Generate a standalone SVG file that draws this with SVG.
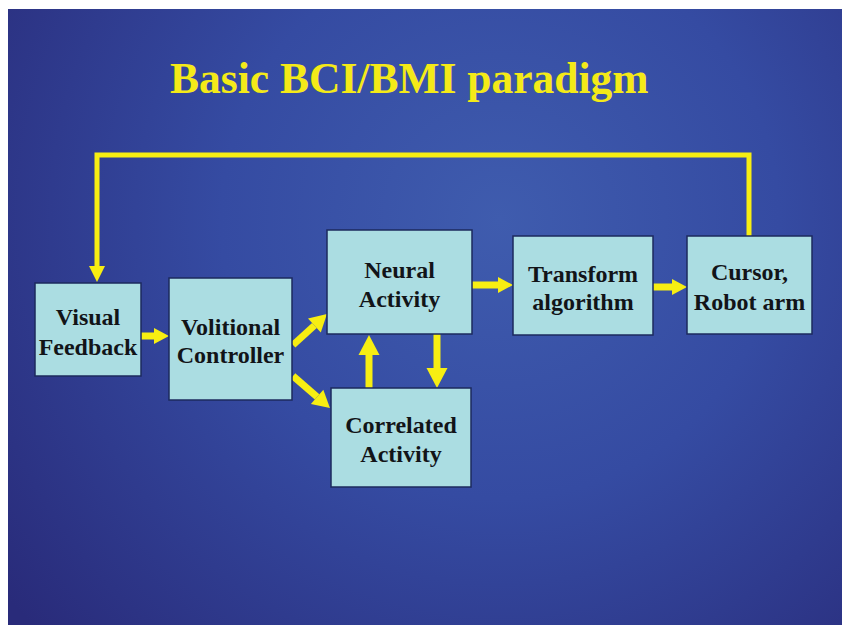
<svg xmlns="http://www.w3.org/2000/svg" width="842" height="625" viewBox="0 0 842 625">
  <defs>
    <radialGradient id="bg" cx="500" cy="220" r="620" gradientUnits="userSpaceOnUse">
      <stop offset="0" stop-color="#3F5CAE"/>
      <stop offset="0.45" stop-color="#354BA2"/>
      <stop offset="1" stop-color="#292B7A"/>
    </radialGradient>
    <marker id="head" viewBox="0 -10 20 20" refX="0" refY="0" markerWidth="20" markerHeight="20" markerUnits="userSpaceOnUse" orient="auto" overflow="visible">
      <path d="M0,-8 L15,0 L0,8 Z" fill="#F7EE12"/>
    </marker>
    <marker id="headDiag" viewBox="0 -12 24 24" refX="0" refY="0" markerWidth="24" markerHeight="24" markerUnits="userSpaceOnUse" orient="auto" overflow="visible">
      <path d="M0,-9.5 L17,0 L0,9.5 Z" fill="#F7EE12"/>
    </marker>
    <marker id="headBig" viewBox="0 -12 24 24" refX="0" refY="0" markerWidth="24" markerHeight="24" markerUnits="userSpaceOnUse" orient="auto" overflow="visible">
      <path d="M0,-10.5 L20,0 L0,10.5 Z" fill="#F7EE12"/>
    </marker>
    <marker id="headFb" viewBox="0 -10 20 20" refX="0" refY="0" markerWidth="20" markerHeight="20" markerUnits="userSpaceOnUse" orient="auto" overflow="visible">
      <path d="M0,-8 L16,0 L0,8 Z" fill="#F7EE12"/>
    </marker>
  </defs>
  <style>
    .box { fill: #ABDDE2; stroke: #1C2A5E; stroke-width: 1.5; }
    .lbl { font-family: "Liberation Serif", "Times New Roman", serif; font-weight: bold; font-size: 24px; fill: #121418; text-anchor: middle; }
    .title { font-family: "Liberation Serif", "Times New Roman", serif; font-weight: bold; font-size: 43.5px; fill: #F4EA18; }
    .arr { stroke: #F7EE12; stroke-width: 7; fill: none; }
    .fb { stroke: #F7EE12; stroke-width: 5; fill: none; stroke-linejoin: miter; }
  </style>
  <rect x="0" y="0" width="842" height="625" fill="#FFFFFF"/>
  <rect x="8" y="9" width="834" height="616" fill="url(#bg)"/>
  <text class="title" x="170" y="93">Basic BCI/BMI paradigm</text>

  <g id="connectors">
    <polyline class="fb" points="749,236 749,155 97,155 97,266" marker-end="url(#headFb)"/>
    <line class="arr" x1="141" y1="336" x2="154" y2="336" marker-end="url(#head)"/>
    <line class="arr" x1="293" y1="345" x2="314.4" y2="325.5" marker-end="url(#headDiag)"/>
    <line class="arr" x1="293" y1="376" x2="317.1" y2="396.9" marker-end="url(#headDiag)"/>
    <line class="arr" x1="369" y1="388" x2="369" y2="355" marker-end="url(#headBig)"/>
    <line class="arr" x1="437" y1="334" x2="437" y2="368" marker-end="url(#headBig)"/>
    <line class="arr" x1="472" y1="285" x2="498" y2="285" marker-end="url(#head)"/>
    <line class="arr" x1="653" y1="287" x2="672" y2="287" marker-end="url(#head)"/>
  </g>

  <g id="visual-feedback">
    <rect class="box" x="35" y="283" width="106" height="93"/>
    <text class="lbl" x="88" y="325">Visual</text>
    <text class="lbl" x="88" y="355">Feedback</text>
  </g>
  <g id="volitional-controller">
    <rect class="box" x="169" y="278" width="123" height="122"/>
    <text class="lbl" x="230.5" y="335">Volitional</text>
    <text class="lbl" x="230.5" y="363">Controller</text>
  </g>
  <g id="neural-activity">
    <rect class="box" x="327" y="230" width="145" height="104"/>
    <text class="lbl" x="399.5" y="278">Neural</text>
    <text class="lbl" x="399.5" y="307">Activity</text>
  </g>
  <g id="correlated-activity">
    <rect class="box" x="331" y="388" width="140" height="99"/>
    <text class="lbl" x="401" y="433">Correlated</text>
    <text class="lbl" x="401" y="462">Activity</text>
  </g>
  <g id="transform-algorithm">
    <rect class="box" x="513" y="236" width="140" height="99"/>
    <text class="lbl" x="583" y="282">Transform</text>
    <text class="lbl" x="583" y="310">algorithm</text>
  </g>
  <g id="cursor-robot-arm">
    <rect class="box" x="687" y="236" width="125" height="98"/>
    <text class="lbl" x="749.5" y="280">Cursor,</text>
    <text class="lbl" x="749.5" y="310">Robot arm</text>
  </g>
</svg>
